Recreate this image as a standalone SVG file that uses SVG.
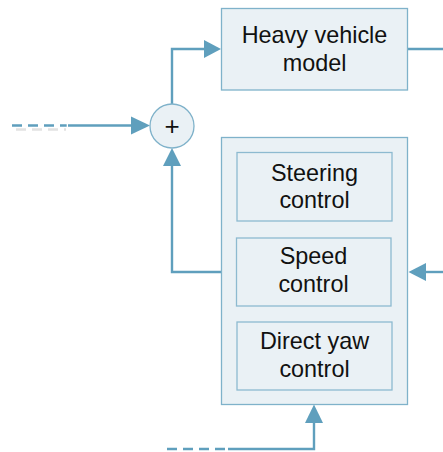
<svg xmlns="http://www.w3.org/2000/svg" width="443" height="452" viewBox="0 0 443 452">
<style>
.box{fill:#eaf1f5;stroke:#7fb2ca;stroke-width:1.3}
.inner{fill:#eaf1f5;stroke:#8dbad0;stroke-width:1.3}
.ln{fill:none;stroke:#5f9fbd;stroke-width:2.4}
.dash{fill:none;stroke:#5f9fbd;stroke-width:2.4;stroke-dasharray:10 6}
.shadow{fill:none;stroke:#e2e2e2;stroke-width:2.4;stroke-dasharray:10 6}
.ah{fill:#5f9fbd}
text{font-family:"Liberation Sans",Arial,sans-serif;font-size:23.4px;fill:#111;text-anchor:middle}
</style>
<g id="connectors">
  <path class="ln" d="M172,104 V49 H206"/>
  <polygon class="ah" points="221,49 204,40 204,58"/>
  <path class="ln" d="M407.5,49 H443"/>
  <path class="shadow" d="M16,129.5 H66"/>
  <path class="dash" d="M12,125.5 H66.7"/>
  <path class="ln" d="M68,125.5 H134"/>
  <polygon class="ah" points="150,125.5 131,116.5 131,134.5"/>
  <path class="ln" d="M222,272 H172 V164"/>
  <polygon class="ah" points="172,148 163,166 181,166"/>
  <path class="ln" d="M443,272 H424"/>
  <polygon class="ah" points="408.5,272 426,263 426,281"/>
  <path class="dash" d="M167,449 H225"/>
  <path class="ln" d="M228,449 H314 V420"/>
  <polygon class="ah" points="314,404.5 305,423 323,423"/>
</g>
<g id="heavy-vehicle-model">
  <rect class="box" x="221.5" y="8.5" width="186" height="81.5"/>
  <text x="314.5" y="43.3">Heavy vehicle</text>
  <text x="314.5" y="70.7">model</text>
</g>
<g id="sum">
  <circle class="box" cx="172" cy="126" r="22"/>
  <text x="172" y="135" style="font-size:26px">+</text>
</g>
<g id="controller">
  <rect class="box" x="221.5" y="137.5" width="186" height="267"/>
</g>
<g id="steering-control">
  <rect class="inner" x="237" y="152.5" width="155" height="68.5"/>
  <text x="314.5" y="180.5">Steering</text>
  <text x="314.5" y="207.5">control</text>
</g>
<g id="speed-control">
  <rect class="inner" x="236.5" y="238" width="154.5" height="68"/>
  <text x="313.5" y="264">Speed</text>
  <text x="313.5" y="291.5">control</text>
</g>
<g id="direct-yaw-control">
  <rect class="inner" x="237" y="322" width="155" height="68"/>
  <text x="314.5" y="349.3">Direct yaw</text>
  <text x="314.5" y="377">control</text>
</g>
</svg>
